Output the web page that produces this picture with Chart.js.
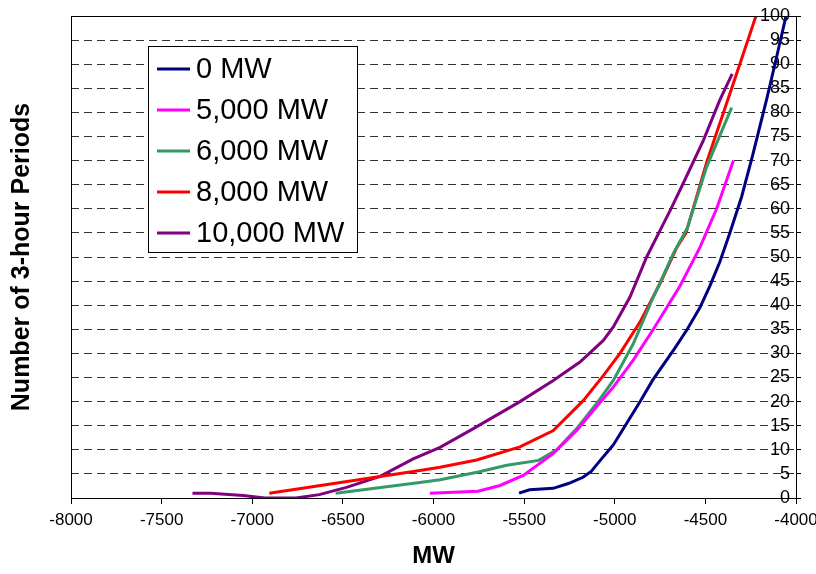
<!DOCTYPE html>
<html>
<head>
<meta charset="utf-8">
<script src="https://cdn.jsdelivr.net/npm/chart.js@4/dist/chart.umd.min.js"></script>
<style>
  html, body { margin: 0; padding: 0; background: #fff; }
  #wrap { width: 816px; height: 574px; position: relative; }
</style>
</head>
<body>
<div id="wrap"><canvas id="chart"></canvas></div>
<script>
// ---------- Data ----------
const seriesNames = ['0 MW', '5,000 MW', '6,000 MW', '8,000 MW', '10,000 MW'];
const seriesColors = ['#000080', '#FF00FF', '#339966', '#FF0000', '#800080'];

const mw0X  = [-5528,-5470,-5340,-5256,-5175,-5130,-5080,-5008,-4934,-4860,-4790,-4670,-4600,-4530,-4475,-4420,-4365,-4300,-4240,-4160,-4107,-4055];
const mw0Y  = [1,1.7,2,3,4.3,5.5,7.8,11,15.5,20,24.5,31,35,39.5,44,49,55,62.5,71,83,91.5,100];

const mw5X  = [-6020,-5755,-5633,-5505,-5340,-5210,-5100,-5008,-4898,-4787,-4640,-4530,-4438,-4345];
const mw5Y  = [1,1.4,2.6,4.7,9.2,14,19,23,28.6,35,44,52,60,70];

const mw6X  = [-6540,-6075,-5964,-5753,-5596,-5420,-5320,-5210,-5100,-5008,-4898,-4787,-4677,-4600,-4493,-4355];
const mw6Y  = [1,3.2,3.8,5.4,6.8,7.8,10,14.4,19.6,24.4,32,41.7,50.7,56,68.7,81];

const mw8X  = [-6906,-6075,-5964,-5762,-5523,-5339,-5174,-5063,-4971,-4861,-4750,-4660,-4607,-4490,-4400,-4310,-4221];
const mw8Y  = [1,5.7,6.4,7.9,10.6,14,20.2,25.4,30,36.5,44.5,51.8,55,70,80,90,100];

const mw10X = [-7330,-7230,-7050,-6930,-6760,-6630,-6480,-6295,-6112,-5964,-5780,-5523,-5339,-5192,-5063,-5008,-4916,-4824,-4690,-4622,-4511,-4420,-4352];
const mw10Y = [1,1,0.5,0,0,0.7,2.2,4.5,8.1,10.5,14.4,20,24.4,28.2,32.7,35.5,41.7,50,60,65.3,74.2,82.6,88];

const xTicks = [-8000,-7500,-7000,-6500,-6000,-5500,-5000,-4500,-4000];
const yTicks = [0,5,10,15,20,25,30,35,40,45,50,55,60,65,70,75,80,85,90,95,100];

const allX = [mw0X, mw5X, mw6X, mw8X, mw10X];
const allY = [mw0Y, mw5Y, mw6Y, mw8Y, mw10Y];

// ---------- Helpers ----------
const FONT = "'Liberation Sans', Arial, Helvetica, sans-serif";
function pts(xs, ys){ return xs.map((x, i) => ({ x, y: ys[i] })); }

// plot area frame
const plotBorder = {
  id: 'plotBorder',
  afterDraw(chart){
    const {ctx, chartArea:{left, top, right, bottom}} = chart;
    ctx.save();
    ctx.strokeStyle = '#000';
    ctx.lineWidth = 1;
    ctx.strokeRect(left + 0.5, top + 0.5, right - left, bottom - top);
    ctx.restore();
  }
};

// legend box inside the plot, like the Excel one
const boxLegend = {
  id: 'boxLegend',
  afterDatasetsDraw(chart){
    const ctx = chart.ctx;
    ctx.save();
    ctx.fillStyle = '#fff';
    ctx.fillRect(148, 46, 209, 206);
    ctx.strokeStyle = '#000';
    ctx.lineWidth = 1;
    ctx.strokeRect(148.5, 46.5, 209, 206);
    ctx.font = '29px ' + FONT;
    ctx.textBaseline = 'middle';
    chart.data.datasets.forEach((ds, i) => {
      const y = 69 + i * 41;
      ctx.strokeStyle = ds.borderColor;
      ctx.lineWidth = 3;
      ctx.beginPath(); ctx.moveTo(157, y); ctx.lineTo(190, y); ctx.stroke();
      ctx.fillStyle = '#000';
      ctx.fillText(ds.label, 196, y + 1);
    });
    ctx.restore();
  }
};

// ---------- Chart ----------
new Chart(document.getElementById('chart'), {
  type: 'line',
  data: {
    datasets: seriesNames.map((name, i) => ({
      label: name,
      data: pts(allX[i], allY[i]),
      borderColor: seriesColors[i],
      backgroundColor: seriesColors[i],
      borderWidth: 3,
      pointRadius: 0,
      tension: 0,
      fill: false
    }))
  },
  options: {
    responsive: true,
    maintainAspectRatio: false,
    animation: false,
    layout: { padding: { top: 16, right: 0, left: 0, bottom: 0 } },
    plugins: { legend: { display: false }, tooltip: { enabled: false } },
    scales: {
      x: {
        type: 'linear',
        position: 'bottom',
        min: -8000, max: -4000,
        afterBuildTicks: s => { s.ticks = xTicks.map(v => ({ value: v })); },
        // let the last label run off the canvas like in the original
        afterFit: s => { s.height = 76; s.paddingRight = 0; s.paddingLeft = 0; },
        grid: { drawOnChartArea: false, drawTicks: true, tickLength: 6, color: '#000' },
        border: { display: true, color: '#000', width: 1 },
        ticks: { color: '#000', font: { family: FONT, size: 17 }, padding: 6, maxRotation: 0, autoSkip: false,
                 callback: v => String(v) },
        title: { display: true, text: 'MW', color: '#000', font: { family: FONT, size: 24, weight: 'bold' }, padding: { top: 0, bottom: 3 } }
      },
      y: {
        type: 'linear',
        position: 'right',
        min: 0, max: 100,
        afterBuildTicks: s => { s.ticks = yTicks.map(v => ({ value: v })); },
        afterFit: s => { s.width = 20; },
        grid: { drawOnChartArea: true, drawTicks: true, tickLength: 5, color: '#333', tickColor: '#000' },
        border: { display: true, color: '#000', width: 1, dash: [8, 5] },
        ticks: { color: '#000', mirror: true, padding: -6, autoSkip: false, font: { family: FONT, size: 18 } }
      },
      yLeft: {
        type: 'linear',
        position: 'left',
        min: 0, max: 100,
        afterFit: s => { s.width = 71; },
        grid: { display: false },
        border: { display: false },
        ticks: { display: false },
        title: { display: true, text: 'Number of 3-hour Periods', color: '#000', font: { family: FONT, size: 25, weight: 'bold' }, padding: { top: 7, bottom: 0 } }
      }
    }
  },
  plugins: [plotBorder, boxLegend]
});
</script>
</body>
</html>
